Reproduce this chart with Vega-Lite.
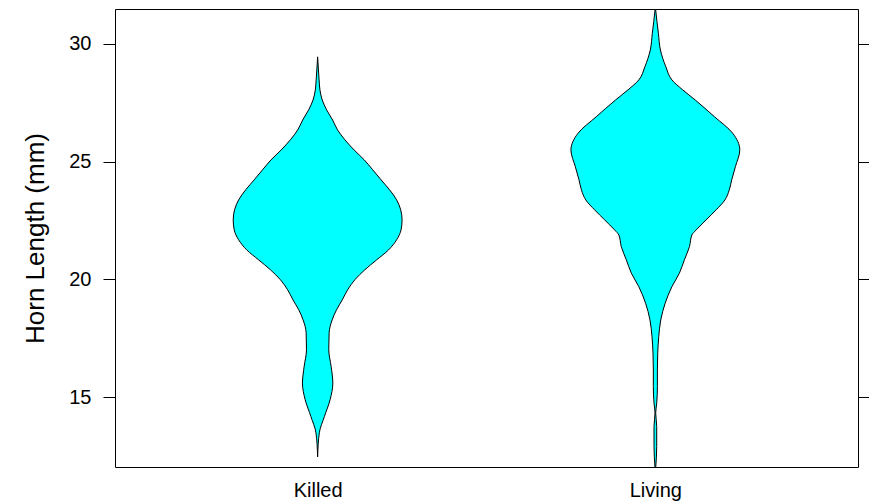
{
  "$schema": "https://vega.github.io/schema/vega-lite/v6.json",
  "width": 743,
  "height": 458,
  "autosize": {"type": "none"},
  "padding": {"left": 115, "top": 9, "right": 11, "bottom": 37},
  "background": "white",
  "config": {
    "view": {"stroke": "black", "strokeWidth": 1},
    "font": "Liberation Sans",
    "axis": {"labelFont": "Liberation Sans", "titleFont": "Liberation Sans", "labelColor": "black", "titleColor": "black", "tickColor": "black", "grid": false, "domain": false}
  },
  "data": {"values": [
    {"group": "Killed", "horn": 29.44, "half": 0},
    {"group": "Killed", "horn": 28.885, "half": 0.0024},
    {"group": "Killed", "horn": 28.46, "half": 0.0044},
    {"group": "Killed", "horn": 28.04, "half": 0.0068},
    {"group": "Killed", "horn": 27.61, "half": 0.0136},
    {"group": "Killed", "horn": 27.19, "half": 0.0267},
    {"group": "Killed", "horn": 26.76, "half": 0.0444},
    {"group": "Killed", "horn": 26.34, "half": 0.059},
    {"group": "Killed", "horn": 25.92, "half": 0.0808},
    {"group": "Killed", "horn": 25.49, "half": 0.108},
    {"group": "Killed", "horn": 25.07, "half": 0.138},
    {"group": "Killed", "horn": 24.65, "half": 0.163},
    {"group": "Killed", "horn": 24.22, "half": 0.188},
    {"group": "Killed", "horn": 23.8, "half": 0.213},
    {"group": "Killed", "horn": 23.37, "half": 0.234},
    {"group": "Killed", "horn": 22.95, "half": 0.246},
    {"group": "Killed", "horn": 22.52, "half": 0.25},
    {"group": "Killed", "horn": 22.1, "half": 0.247},
    {"group": "Killed", "horn": 21.68, "half": 0.234},
    {"group": "Killed", "horn": 21.25, "half": 0.21},
    {"group": "Killed", "horn": 20.83, "half": 0.175},
    {"group": "Killed", "horn": 20.41, "half": 0.14},
    {"group": "Killed", "horn": 19.98, "half": 0.11},
    {"group": "Killed", "horn": 19.56, "half": 0.089},
    {"group": "Killed", "horn": 19.13, "half": 0.073},
    {"group": "Killed", "horn": 18.71, "half": 0.056},
    {"group": "Killed", "horn": 18.28, "half": 0.043},
    {"group": "Killed", "horn": 17.73, "half": 0.034},
    {"group": "Killed", "horn": 17.01, "half": 0.033},
    {"group": "Killed", "horn": 16.3, "half": 0.04},
    {"group": "Killed", "horn": 15.6, "half": 0.045},
    {"group": "Killed", "horn": 14.9, "half": 0.037},
    {"group": "Killed", "horn": 14.18, "half": 0.02},
    {"group": "Killed", "horn": 13.49, "half": 0.005},
    {"group": "Killed", "horn": 12.47, "half": 0},
    {"group": "Living", "horn": 31.6, "half": 0.0},
    {"group": "Living", "horn": 31.43, "half": 0.001},
    {"group": "Living", "horn": 30.44, "half": 0.009},
    {"group": "Living", "horn": 29.73, "half": 0.015},
    {"group": "Living", "horn": 29.02, "half": 0.031},
    {"group": "Living", "horn": 28.46, "half": 0.049},
    {"group": "Living", "horn": 28.04, "half": 0.081},
    {"group": "Living", "horn": 27.61, "half": 0.118},
    {"group": "Living", "horn": 26.9, "half": 0.175},
    {"group": "Living", "horn": 26.2, "half": 0.229},
    {"group": "Living", "horn": 25.49, "half": 0.25},
    {"group": "Living", "horn": 24.78, "half": 0.237},
    {"group": "Living", "horn": 24.22, "half": 0.226},
    {"group": "Living", "horn": 23.8, "half": 0.219},
    {"group": "Living", "horn": 23.37, "half": 0.206},
    {"group": "Living", "horn": 22.95, "half": 0.18},
    {"group": "Living", "horn": 22.52, "half": 0.15},
    {"group": "Living", "horn": 22.1, "half": 0.121},
    {"group": "Living", "horn": 21.88, "half": 0.108},
    {"group": "Living", "horn": 21.39, "half": 0.101},
    {"group": "Living", "horn": 20.83, "half": 0.086},
    {"group": "Living", "horn": 20.26, "half": 0.071},
    {"group": "Living", "horn": 19.69, "half": 0.049},
    {"group": "Living", "horn": 18.99, "half": 0.029},
    {"group": "Living", "horn": 18.28, "half": 0.016},
    {"group": "Living", "horn": 17.57, "half": 0.01},
    {"group": "Living", "horn": 16.87, "half": 0.007},
    {"group": "Living", "horn": 16.16, "half": 0.006},
    {"group": "Living", "horn": 15.45, "half": 0.006},
    {"group": "Living", "horn": 14.75, "half": 0.004},
    {"group": "Living", "horn": 14.33, "half": 0.001},
    {"group": "Living", "horn": 13.76, "half": 0.004},
    {"group": "Living", "horn": 12.91, "half": 0.004},
    {"group": "Living", "horn": 12.0, "half": 0.001}
  ]},
  "transform": [
    {"calculate": "datum.group === 'Killed' ? 1 : 2", "as": "gx"},
    {"calculate": "datum.gx - datum.half", "as": "lo"},
    {"calculate": "datum.gx + datum.half", "as": "hi"}
  ],
  "layer": [
    {
      "mark": {"type": "area", "orient": "horizontal", "interpolate": "monotone", "fill": "#00FFFF", "stroke": "black", "strokeWidth": 1, "clip": true},
      "encoding": {
        "y": {"field": "horn", "type": "quantitative", "scale": {"domain": [12.04, 31.47], "nice": false, "zero": false},
              "axis": {"orient": "left", "values": [15, 20, 25, 30], "tickSize": 12, "labelFontSize": 20, "labelPadding": 12, "title": "Horn Length (mm)", "titleFontSize": 26, "titleFontWeight": "normal", "titlePadding": 20}},
        "x": {"field": "lo", "type": "quantitative", "scale": {"domain": [0.4, 2.6], "nice": false, "zero": false},
              "axis": {"values": [1, 2], "labelExpr": "datum.value == 1 ? 'Killed' : 'Living'", "ticks": false, "labelFontSize": 20, "labelPadding": 13, "title": null}},
        "x2": {"field": "hi"},
        "detail": {"field": "group"}
      }
    },
    {
      "mark": {"type": "area", "orient": "horizontal", "opacity": 0},
      "encoding": {
        "y": {"field": "horn", "type": "quantitative",
              "axis": {"orient": "right", "values": [15, 20, 25, 30], "tickSize": 11, "labels": false, "title": null}},
        "x": {"field": "lo", "type": "quantitative"},
        "x2": {"field": "hi"},
        "detail": {"field": "group"}
      }
    }
  ],
  "resolve": {"axis": {"y": "independent"}}
}
